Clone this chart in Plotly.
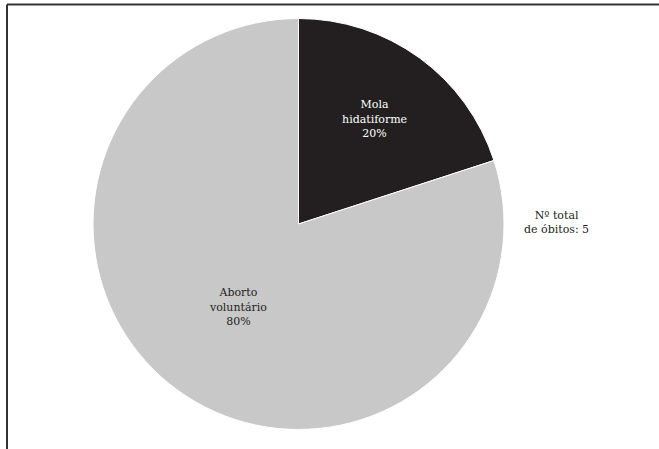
import plotly.graph_objects as go

labels = ["Mola<br>hidatiforme", "Aborto<br>voluntário"]
values = [1, 4]
colors = ["#231f20", "#c8c8c9"]
text_colors = ["#ffffff", "#231f20"]
note_text = "Nº total<br>de óbitos: 5"

W, H = 659, 449
cx, cy, r = 298.5, 224.0, 205.5

fig = go.Figure(go.Pie(
    labels=labels,
    values=values,
    sort=False,
    direction="clockwise",
    rotation=0,
    marker=dict(colors=colors, line=dict(color="#ffffff", width=1)),
    textinfo="label+percent",
    texttemplate="%{label}<br>%{percent:.0%}",
    textposition="inside",
    insidetextorientation="horizontal",
    textfont=dict(family="DejaVu Serif", size=11, color=text_colors),
    showlegend=False,
    hoverinfo="label+percent",
    domain=dict(x=[(cx - r) / W, (cx + r) / W], y=[1 - (cy + r) / H, 1 - (cy - r) / H]),
))

fig.add_annotation(
    x=556 / W, y=1 - 222 / H, xref="paper", yref="paper",
    xanchor="center", yanchor="middle",
    text=note_text, showarrow=False,
    font=dict(family="DejaVu Serif", size=11, color="#231f20"),
    align="center",
)

fig.add_shape(type="line", xref="paper", yref="paper",
              x0=7 / W, x1=1, y0=1 - 4.5 / H, y1=1 - 4.5 / H,
              line=dict(color="#333333", width=2))
fig.add_shape(type="line", xref="paper", yref="paper",
              x0=7 / W, x1=7 / W, y0=0, y1=1 - 4.5 / H,
              line=dict(color="#333333", width=2))

fig.update_layout(
    width=W, height=H,
    margin=dict(l=0, r=0, t=0, b=0),
    paper_bgcolor="#ffffff",
    plot_bgcolor="#ffffff",
)

fig.write_html(
    "out.html",
    config={"displayModeBar": False},
    post_script="document.body.style.margin='0';document.body.style.overflow='hidden';",
)
